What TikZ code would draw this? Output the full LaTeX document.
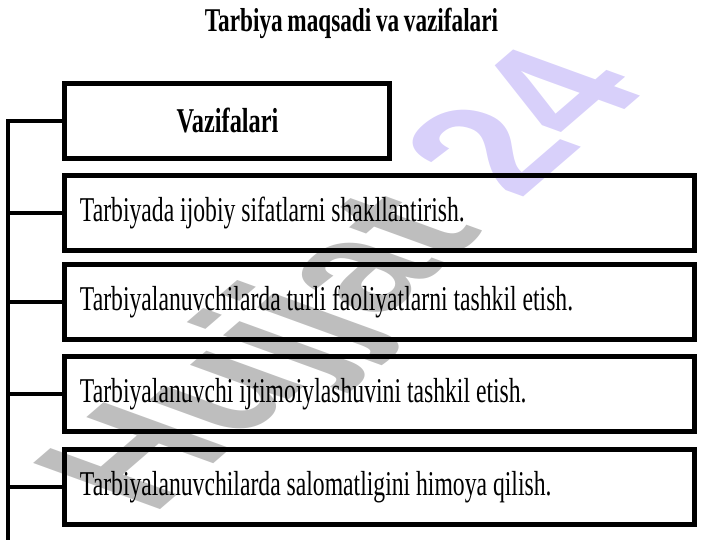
\documentclass[tikz,border=0pt]{standalone}
\usepackage{fontspec}
\setmainfont{Liberation Serif}[FakeStretch=0.68,WordSpace=1.0,BoldFeatures={FakeStretch=0.70,WordSpace=0.8}]
\newfontfamily\wmfont{Liberation Sans}
\usepackage{xcolor}
\definecolor{wmgray}{HTML}{BEBEBE}
\definecolor{wmlilac}{HTML}{D8D0FA}

\begin{document}
\begin{tikzpicture}[x=0.5pt,y=0.5pt,
        box/.style={draw,line width=2.5pt,minimum height=37.5pt,inner sep=0pt},
        item/.style={box,text width=300pt,inner xsep=7.5pt,align=flush left,font=\fontsize{17.4}{20}\selectfont},
        link/.style={line width=1.7pt}]
        \useasboundingbox (0,0) rectangle (720,-540);
        \begin{scope}[shift={(355,-284)},yscale=0.56]
            \node[rotate=57,transform shape,font=\wmfont\bfseries\fontsize{110}{112}\selectfont] (mark) at (0,0) {\color{wmgray}Hujjat \color{wmlilac}24};
        \end{scope}
        \node[font=\bfseries\fontsize{16.6}{20}\selectfont] (title) at (351.5,-23) {Tarbiya maqsadi va vazifalari};
        \node[box,minimum width=162.5pt,font=\bfseries\fontsize{17.4}{20}\selectfont] (vaz) at (227.5,-121) {Vazifalari};
        \node[item] (b1) at (380,-213) {Tarbiyada ijobiy sifatlarni shakllantirish.};
        \node[item] (b2) at (380,-302) {Tarbiyalanuvchilarda turli faoliyatlarni tashkil etish.};
        \node[item] (b3) at (380,-394) {Tarbiyalanuvchi ijtimoiylashuvini tashkil etish.};
        \node[item] (b4) at (380,-487) {Tarbiyalanuvchilarda salomatligini himoya qilish.};
        \coordinate (spine) at (8,-545);
        \draw[link] (vaz.west) -| (spine);
        \draw[link] (b1.west) -- (b1.west -| spine);
        \draw[link] (b2.west) -- (b2.west -| spine);
        \draw[link] (b3.west) -- (b3.west -| spine);
        \draw[link] (b4.west) -- (b4.west -| spine);
\end{tikzpicture}
\end{document}
